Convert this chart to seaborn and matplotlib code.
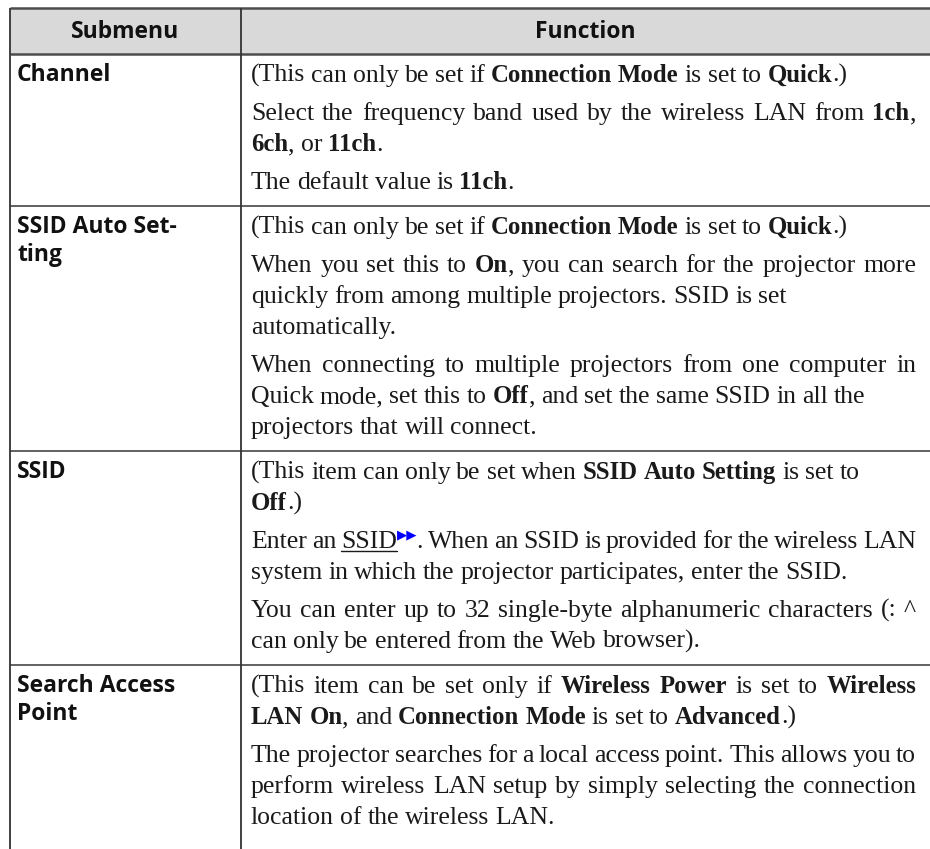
import re
import matplotlib
matplotlib.use("Agg")
import matplotlib.pyplot as plt
import seaborn as sns

sns.set_theme(style="white")
plt.rcParams['font.family'] = ['Liberation Serif', 'DejaVu Sans']

# ---------------- data ----------------
header = ["Submenu", "Function"]
submenus = ["Channel", "SSID Auto Set-\nting", "SSID", "Search Access\nPoint"]
# each row: list of paragraphs, each paragraph: list of lines
# **bold**, __underline__, @@ = link arrows
functions = [
    [["(This can only be set if **Connection Mode** is set to **Quick**.)"],
     ["Select the frequency band used by the wireless LAN from **1ch**,",
      "**6ch**, or **11ch**."],
     ["The default value is **11ch**."]],
    [["(This can only be set if **Connection Mode** is set to **Quick**.)"],
     ["When you set this to **On**, you can search for the projector more",
      "quickly from among multiple projectors. SSID is set",
      "automatically."],
     ["When connecting to multiple projectors from one computer in",
      "Quick mode, set this to **Off**, and set the same SSID in all the",
      "projectors that will connect."]],
    [["(This item can only be set when **SSID Auto Setting** is set to",
      "**Off**.)"],
     ["Enter an __SSID__@@. When an SSID is provided for the wireless LAN",
      "system in which the projector participates, enter the SSID."],
     ["You can enter up to 32 single-byte alphanumeric characters (: ^",
      "can only be entered from the Web browser)."]],
    [["(This item can be set only if **Wireless Power** is set to **Wireless**",
      "**LAN On**, and **Connection Mode** is set to **Advanced**.)"],
     ["The projector searches for a local access point. This allows you to",
      "perform wireless LAN setup by simply selecting the connection",
      "location of the wireless LAN."]],
]

# ---------------- style / layout ----------------
W, H = 930, 849
X0, XSPLIT, XEND = 10, 241, 930
TX0, TX1 = 251, 916
Y_TOP, Y_HEAD = 8, 54
LINE_H, PARA_GAP = 31, 7
PAD_TOP, PAD_BOT = 21, 24
LABEL_LH = 28
BODY_SIZE = 18.5
BODY = dict(family=['Liberation Serif', 'DejaVu Sans'], color='#1a1a1a')
SANS = dict(family=['Open Sans', 'DejaVu Sans'], size=16.5, weight='bold', color='#111111')
HEAD_BG = '#d9d9d9'
JUSTIFY_MIN = 0.925

fig = plt.figure(figsize=(W / 100, H / 100), dpi=100)
fig.patch.set_facecolor('white')
ax = fig.add_axes([0, 0, 1, 1])
ax.set_xlim(0, W)
ax.set_ylim(H, 0)
ax.axis('off')
r = fig.canvas.get_renderer()

SPACE = 0.23 * BODY_SIZE * 100 / 72


def draw_line(y, line, justify):
    parts = re.split(r'(\*\*.*?\*\*|__.*?__|@@)', line)
    pieces = []  # (artist, width, space_before, underline)
    pending = False
    for p in parts:
        if not p:
            continue
        if p == '@@':
            t = ax.text(0, y - 10, "\u25B6\u25B6", family='DejaVu Sans', size=9.5,
                        color='#0000ff', va='baseline', ha='left')
            pieces.append([t, t.get_window_extent(r).width - 1, False, False])
            continue
        weight, under, size = 'normal', False, BODY_SIZE
        if p.startswith('**'):
            weight, txt, size = 'bold', p[2:-2], BODY_SIZE - 0.7
        elif p.startswith('__'):
            under, txt = True, p[2:-2]
        else:
            txt = p
        for i, wd in enumerate(txt.split(' ')):
            if i > 0:
                pending = True
            if wd == '':
                continue
            t = ax.text(0, y, wd, va='baseline', ha='left', weight=weight, size=size, **BODY)
            pieces.append([t, t.get_window_extent(r).width, pending, under])
            pending = False
    nat = sum(pc[1] for pc in pieces) + SPACE * sum(1 for pc in pieces if pc[2])
    gaps = sum(1 for pc in pieces if pc[2])
    sp = SPACE
    if justify and gaps and nat >= JUSTIFY_MIN * (TX1 - TX0):
        sp = SPACE + (TX1 - TX0 - nat) / gaps
    x = TX0
    for t, w, space_before, under in pieces:
        if space_before:
            x += sp
        t.set_x(x)
        if under:
            ax.plot([x, x + w], [y + 3, y + 3], color='#1a1a1a', lw=1.0)
        x += w


# header
ax.add_patch(plt.Rectangle((X0, Y_TOP), XEND - X0, Y_HEAD - Y_TOP, facecolor=HEAD_BG,
                           edgecolor='none', zorder=0))
ax.text((X0 + XSPLIT) / 2, (Y_TOP + Y_HEAD) / 2 + 1, header[0], ha='center', va='center', **SANS)
ax.text((XSPLIT + XEND) / 2, (Y_TOP + Y_HEAD) / 2 + 1, header[1], ha='center', va='center', **SANS)
for yy in (Y_TOP, Y_HEAD):
    ax.plot([X0, XEND], [yy, yy], color='#4d4d4d', lw=1.8, solid_capstyle='butt')

# rows
top = Y_HEAD
for idx, (label, paras) in enumerate(zip(submenus, functions)):
    n = sum(len(p) for p in paras)
    height = PAD_TOP + (n - 1) * LINE_H + (len(paras) - 1) * PARA_GAP + PAD_BOT
    yc = top + PAD_TOP
    for k, lab in enumerate(label.split('\n')):
        ax.text(17, yc + k * LABEL_LH, lab, ha='left', va='center', **SANS)
    for para in paras:
        for li, line in enumerate(para):
            draw_line(yc + 7, line, justify=li < len(para) - 1)
            yc += LINE_H
        yc += PARA_GAP
    bottom = top + height
    if idx < len(submenus) - 1:
        ax.plot([X0, XEND], [bottom, bottom], color='#555555', lw=1.3, solid_capstyle='butt')
    top = bottom

for xx in (X0, XSPLIT):
    ax.plot([xx, xx], [Y_TOP, H], color='#333333', lw=1.3, solid_capstyle='butt')

fig.savefig("out.png", dpi=100, facecolor='white')
